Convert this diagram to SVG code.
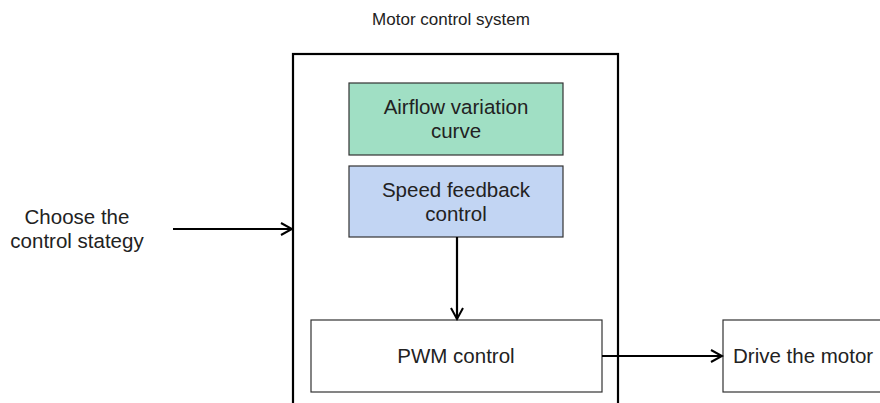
<svg xmlns="http://www.w3.org/2000/svg" width="880" height="403" viewBox="0 0 880 403">
<defs>
<marker id="arr" markerWidth="14" markerHeight="14" refX="12" refY="7" orient="auto" markerUnits="userSpaceOnUse">
<path d="M1,1 L12,7 L1,13" fill="none" stroke="#000" stroke-width="2"/>
</marker>
<style>
text{font-family:"Liberation Sans",Arial,sans-serif;fill:#222;font-size:20.5px}
.title{font-size:17px}
.box{stroke:#333;stroke-width:1.2}
.conn{stroke:#000;stroke-width:2.2;fill:none}
</style>
</defs>
<rect width="880" height="403" fill="#fff"/>
<text class="title" x="451" y="25" text-anchor="middle">Motor control system</text>
<g id="system">
<rect x="293" y="54" width="325" height="360" fill="none" stroke="#000" stroke-width="2.2"/>
</g>
<g id="airflow">
<rect class="box" x="349" y="83" width="214" height="72" fill="#a0dfc4"/>
<text x="456" y="114" text-anchor="middle">Airflow variation</text>
<text x="456" y="138" text-anchor="middle">curve</text>
</g>
<g id="speed">
<rect class="box" x="349" y="166" width="214" height="71" fill="#c2d5f3"/>
<text x="456" y="197" text-anchor="middle">Speed feedback</text>
<text x="456" y="221" text-anchor="middle">control</text>
</g>
<g id="pwm">
<rect class="box" x="311" y="320" width="291" height="72" fill="#fff"/>
<text x="456" y="363" text-anchor="middle">PWM control</text>
</g>
<g id="drive">
<rect class="box" x="723" y="320" width="170" height="72" fill="#fff"/>
<text x="733" y="363">Drive the motor</text>
</g>
<g id="strategy">
<text x="77" y="224" text-anchor="middle">Choose the</text>
<text x="77" y="248" text-anchor="middle">control stategy</text>
</g>
<g id="connectors">
<line class="conn" x1="173" y1="229" x2="292" y2="229" marker-end="url(#arr)"/>
<line class="conn" x1="457" y1="237" x2="457" y2="319" marker-end="url(#arr)"/>
<line class="conn" x1="602" y1="356" x2="722" y2="356" marker-end="url(#arr)"/>
</g>
</svg>
